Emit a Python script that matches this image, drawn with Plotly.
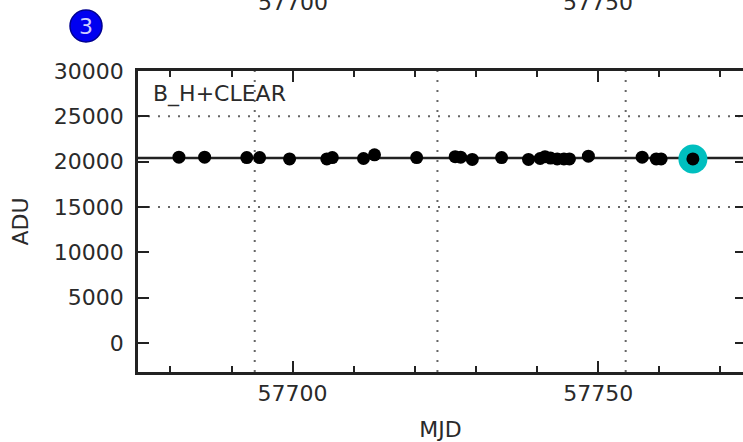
import plotly.graph_objects as go

# ---- data ----
mjd = [57681.4, 57685.6, 57692.5, 57694.6, 57699.5, 57705.6, 57706.5, 57711.6,
       57713.4, 57720.3, 57726.6, 57727.5, 57729.4, 57734.2, 57738.6, 57740.5,
       57741.3, 57742.2, 57743.3, 57744.4, 57745.3, 57748.4, 57757.2, 57759.5,
       57760.3, 57765.5]
adu = [20500, 20500, 20450, 20450, 20300, 20300, 20450, 20350,
       20750, 20450, 20550, 20500, 20250, 20450, 20250, 20350,
       20550, 20400, 20300, 20300, 20300, 20600, 20500, 20300,
       20300, 20300]
highlight_mjd = [57765.5]
highlight_adu = [20300]
median_adu = 20400
limit_adu = [15000, 25000]
event_mjd = [57693.8, 57723.7, 57754.5]
x_tick_vals = [57700, 57750]
y_tick_vals = [0, 5000, 10000, 15000, 20000, 25000, 30000]
filter_label = "B_H+CLEAR"
panel_number = "3"

FONT = "DejaVu Sans"
TXT = "#2a2a2a"
AX = "#222222"

fig = go.Figure()

# highlight marker (cyan) behind
fig.add_trace(go.Scatter(x=highlight_mjd, y=highlight_adu, mode="markers",
                         marker=dict(size=29, color="#00bfbf", line=dict(width=0)),
                         showlegend=False, hoverinfo="skip"))

# median line
fig.add_hline(y=median_adu, line=dict(color="#222222", width=2.5), layer="below")
# limit lines
for v in limit_adu:
    fig.add_hline(y=v, line=dict(color="#666666", width=2, dash="2px,8px"), layer="below")
for v in event_mjd:
    fig.add_vline(x=v, line=dict(color="#666666", width=2, dash="2px,8px"), layer="below")

fig.add_trace(go.Scatter(x=mjd, y=adu, mode="markers",
                         marker=dict(size=13, color="black", line=dict(width=0)),
                         showlegend=False))

fig.update_layout(
    template="none",
    width=743, height=442,
    margin=dict(l=138, r=0, t=71, b=70),
    paper_bgcolor="white", plot_bgcolor="white",
    font=dict(family=FONT, size=22, color=TXT),
    xaxis=dict(
        range=[57674.7, 57773.7],
        tickvals=x_tick_vals, ticktext=[str(v) for v in x_tick_vals],
        ticks="inside", ticklen=11, tickwidth=2, tickcolor=AX,
        minor=dict(dtick=10, tick0=57700, ticks="inside", ticklen=6, tickwidth=2, tickcolor=AX),
        showline=True, linecolor=AX, linewidth=2.5, mirror="ticks",
        showgrid=False, zeroline=False,
        title=dict(text="MJD", standoff=19, font=dict(size=22, color=TXT)),
    ),
    yaxis=dict(
        range=[-3200, 30000],
        tickvals=y_tick_vals, ticktext=[str(v) + "\u00a0" for v in y_tick_vals],
        ticks="inside", ticklen=11, tickwidth=2, tickcolor=AX,
        showline=True, linecolor=AX, linewidth=2.5,
        showgrid=False, zeroline=False,
        title=dict(text="ADU", standoff=20, font=dict(size=22, color=TXT)),
    ),
    yaxis2=dict(
        overlaying="y", side="right", anchor="x",
        range=[-3200, 30000],
        ticks="inside", ticklen=8, tickwidth=2, tickcolor=AX,
        tickvals=y_tick_vals, showticklabels=False,
        showline=False, showgrid=False, zeroline=False,
    ),
)

# invisible trace on yaxis2 so its ticks render
fig.add_trace(go.Scatter(x=[mjd[0]], y=[adu[0]], yaxis="y2", mode="markers",
                         marker=dict(size=1, opacity=0), showlegend=False, hoverinfo="skip"))

# filter label
fig.add_annotation(text=filter_label, xref="paper", yref="paper",
                   x=0.021, y=0.9236, xanchor="left", yanchor="middle",
                   showarrow=False, font=dict(size=22, color=TXT))

# top (cut-off) tick labels from the panel above
for v in x_tick_vals:
    fig.add_annotation(text=str(v), xref="x", yref="paper", x=v, y=1.229,
                       xanchor="center", yanchor="middle", showarrow=False,
                       font=dict(size=22, color=TXT))

# panel number badge
cx = (86 - 138) / 605
cy = (372 - 26) / 301
fig.add_shape(type="circle", xref="paper", yref="paper",
              xsizemode="pixel", ysizemode="pixel",
              xanchor=cx, yanchor=cy, x0=-16, x1=16, y0=-16, y1=16,
              fillcolor="#0000f0", line=dict(color="#000090", width=1.5))
fig.add_annotation(text=panel_number, xref="paper", yref="paper", x=cx, y=cy,
                   xanchor="center", yanchor="middle", showarrow=False,
                   font=dict(size=22, color="#d0d0ff"))

fig.write_html("out.html")
